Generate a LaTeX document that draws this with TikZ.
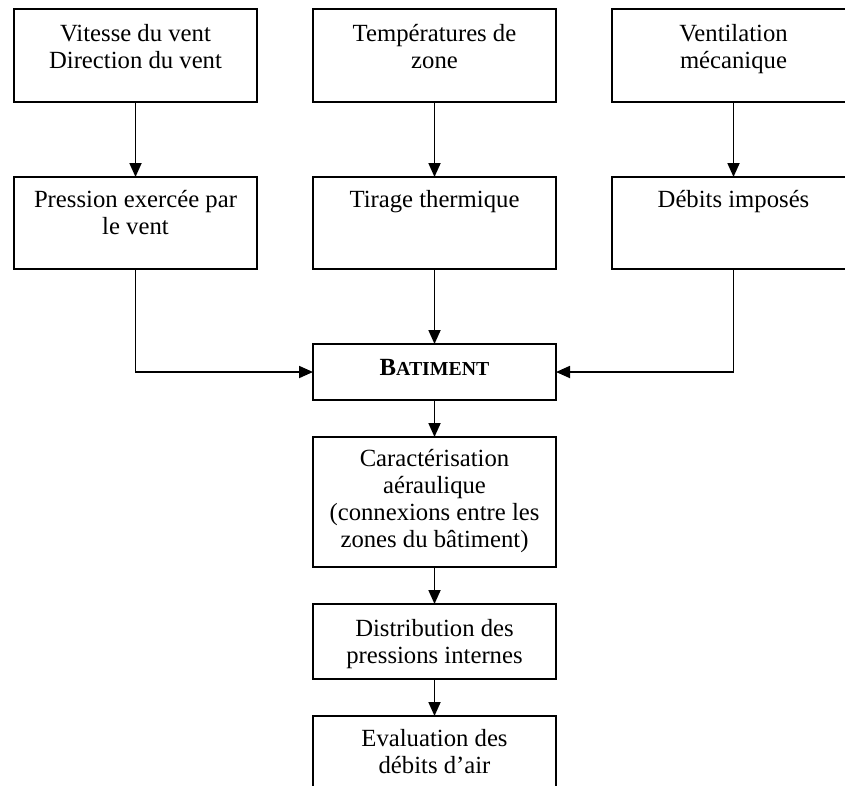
\documentclass[tikz,border=0pt]{standalone}
\usepackage{fontspec}
\setmainfont{Liberation Serif}
\usetikzlibrary{arrows.meta}
\newcommand\dfs{\fontsize{24.7}{26.8}\selectfont}
\begin{document}
\begin{tikzpicture}[x=1pt,y=-1pt,
  box/.style={draw=black,line width=1.1pt,minimum width=243pt,inner sep=0pt,outer sep=0pt},
  txt/.style={anchor=north,inner sep=0pt,align=center,font=\dfs},
  conn/.style={line width=1.8pt,-{Triangle[length=14pt,width=12pt]}}]
\useasboundingbox (0,0) rectangle (845,785);
\clip (0,0) rectangle (845,785);
% boxes
\node[box,minimum height=93pt] (t1) at (135.5,55.5) {};
\node[box,minimum height=93pt] (t2) at (434.5,55.5) {};
\node[box,minimum height=93pt] (t3) at (733.5,55.5) {};
\node[box,minimum height=92pt] (m1) at (135.5,223) {};
\node[box,minimum height=92pt] (m2) at (434.5,223) {};
\node[box,minimum height=92pt] (m3) at (733.5,223) {};
\node[box,minimum height=56pt] (bat) at (434.5,372) {};
\node[box,minimum height=130pt] (car) at (434.5,502) {};
\node[box,minimum height=75pt] (dis) at (434.5,641.5) {};
\node[box,minimum height=84pt] (eva) at (434.5,758) {};
% texts
\node[txt] (xt1) at (135.5,23) {\strut Vitesse du vent\\Direction du vent};
\node[txt] (xt2) at (434.5,23) {\strut Températures de\\zone};
\node[txt] (xt3) at (733.5,23) {\strut Ventilation\\mécanique};
\node[txt] (xm1) at (135.5,189) {\strut Pression exercée par\\le vent};
\node[txt] (xm2) at (434.5,189) {\strut Tirage thermique};
\node[txt] (xm3) at (733.5,189) {\strut Débits imposés};
\node[txt] (xbat) at (434.5,357) {\strut\bfseries B{\fontsize{19.8}{20}\selectfont ATIMENT}};
\node[txt] (xcar) at (434.5,448) {\strut Caractérisation\\aéraulique\\(connexions entre les\\zones du bâtiment)};
\node[txt] (xdis) at (434.5,618) {\strut Distribution des\\pressions internes};
\node[txt] (xeva) at (434.5,728) {\strut Evaluation des\\débits d’air};
% connectors
\draw[conn] (t1.south) -- (m1.north);
\draw[conn] (t2.south) -- (m2.north);
\draw[conn] (t3.south) -- (m3.north);
\draw[conn] (m1.south) |- (bat.west);
\draw[conn] (m2.south) -- (bat.north);
\draw[conn] (m3.south) |- (bat.east);
\draw[conn] (bat.south) -- (car.north);
\draw[conn] (car.south) -- (dis.north);
\draw[conn] (dis.south) -- (eva.north);
\end{tikzpicture}
\end{document}
